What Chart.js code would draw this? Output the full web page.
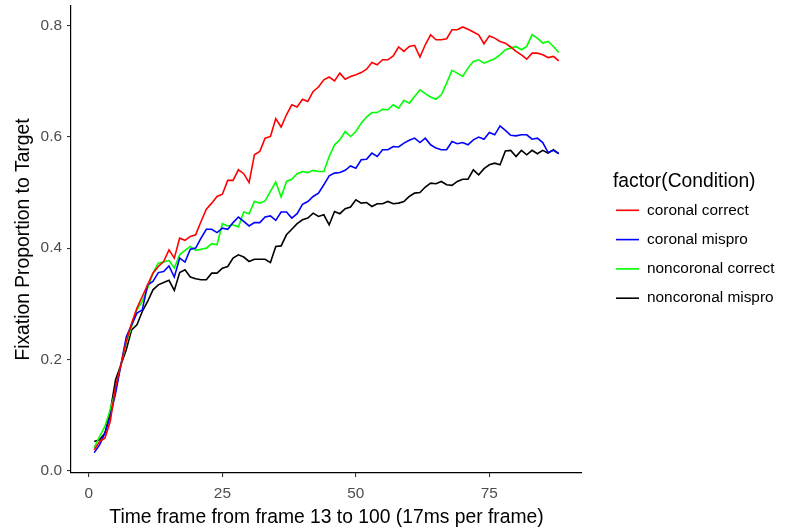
<!DOCTYPE html>
<html>
<head>
<meta charset="utf-8">
<script src="https://cdn.jsdelivr.net/npm/chart.js@4.4.1/dist/chart.umd.min.js"></script>
<style>
  html, body { margin: 0; padding: 0; background: #ffffff; }
  #wrap { width: 787px; height: 531px; position: relative; }
</style>
</head>
<body>
<div id="wrap"><canvas id="c" width="787" height="531"></canvas></div>
<script>
const frames = [1,2,3,4,5,6,7,8,9,10,11,12,13,14,15,16,17,18,19,20,21,22,23,24,25,26,27,28,29,30,
  31,32,33,34,35,36,37,38,39,40,41,42,43,44,45,46,47,48,49,50,51,52,53,54,55,56,57,58,59,60,
  61,62,63,64,65,66,67,68,69,70,71,72,73,74,75,76,77,78,79,80,81,82,83,84,85,86,87,88];

const coronalCorrect = [0.037,0.052,0.058,0.088,0.151,0.190,0.232,0.265,0.292,0.313,
  0.334,0.355,0.367,0.376,0.397,0.382,0.418,0.414,0.421,0.424,
  0.448,0.470,0.481,0.493,0.497,0.522,0.522,0.541,0.534,0.518,
  0.568,0.574,0.598,0.601,0.633,0.618,0.640,0.658,0.654,0.668,
  0.664,0.682,0.690,0.703,0.708,0.701,0.715,0.704,0.709,0.712,
  0.716,0.722,0.734,0.730,0.739,0.739,0.746,0.762,0.754,0.763,
  0.765,0.744,0.766,0.784,0.775,0.775,0.777,0.793,0.793,0.798,
  0.794,0.789,0.784,0.768,0.782,0.778,0.772,0.769,0.762,0.754,
  0.748,0.740,0.751,0.751,0.748,0.743,0.745,0.737];

const coronalMispro = [0.032,0.046,0.067,0.097,0.139,0.190,0.240,0.262,0.283,0.289,
  0.334,0.340,0.356,0.358,0.368,0.348,0.382,0.375,0.398,0.400,
  0.418,0.434,0.434,0.428,0.436,0.434,0.446,0.456,0.448,0.440,
  0.446,0.446,0.456,0.458,0.450,0.465,0.465,0.454,0.462,0.479,
  0.484,0.493,0.499,0.514,0.530,0.535,0.536,0.540,0.548,0.544,
  0.559,0.560,0.571,0.565,0.577,0.577,0.583,0.582,0.589,0.594,
  0.598,0.590,0.598,0.586,0.580,0.577,0.577,0.592,0.588,0.590,
  0.586,0.595,0.600,0.596,0.608,0.604,0.620,0.612,0.603,0.602,
  0.604,0.604,0.596,0.598,0.590,0.572,0.576,0.570];

const noncoronalCorrect = [0.041,0.061,0.079,0.109,0.145,0.190,0.229,0.259,0.289,0.304,
  0.328,0.355,0.373,0.375,0.378,0.364,0.388,0.396,0.403,0.396,
  0.398,0.400,0.408,0.406,0.444,0.440,0.442,0.438,0.465,0.462,
  0.484,0.481,0.485,0.502,0.519,0.492,0.520,0.524,0.534,0.538,
  0.536,0.540,0.538,0.538,0.565,0.586,0.595,0.610,0.601,0.610,
  0.625,0.636,0.644,0.644,0.650,0.649,0.658,0.652,0.666,0.661,
  0.673,0.685,0.678,0.672,0.668,0.676,0.697,0.720,0.715,0.709,
  0.724,0.736,0.739,0.733,0.737,0.741,0.748,0.757,0.760,0.763,
  0.757,0.763,0.784,0.778,0.769,0.772,0.763,0.752];

const noncoronalMispro = [0.052,0.055,0.067,0.106,0.163,0.190,0.217,0.253,0.262,0.286,
  0.304,0.325,0.334,0.338,0.342,0.324,0.356,0.361,0.348,0.345,
  0.343,0.343,0.355,0.355,0.364,0.367,0.382,0.388,0.384,0.376,
  0.380,0.380,0.380,0.374,0.403,0.404,0.424,0.434,0.444,0.451,
  0.454,0.463,0.457,0.460,0.442,0.466,0.462,0.471,0.474,0.487,
  0.481,0.482,0.475,0.480,0.480,0.484,0.480,0.481,0.484,0.493,
  0.499,0.500,0.510,0.517,0.516,0.520,0.514,0.513,0.520,0.524,
  0.524,0.541,0.532,0.543,0.550,0.553,0.550,0.575,0.576,0.565,
  0.576,0.568,0.576,0.570,0.576,0.571,0.577,0.570];

const seriesNames = ['coronal correct', 'coronal mispro', 'noncoronal correct', 'noncoronal mispro'];
const seriesValues = [coronalCorrect, coronalMispro, noncoronalCorrect, noncoronalMispro];
const seriesColors = ['#ff0000', '#0000ff', '#00ff00', '#000000'];
const xTicks = [0, 25, 50, 75];
const yTicks = [0, 0.2, 0.4, 0.6, 0.8];
const xTitle = 'Time frame from frame 13 to 100 (17ms per frame)';
const yTitle = 'Fixation Proportion to Target';
const legendTitle = 'factor(Condition)';

const FONT = '"Liberation Sans", Arial, Helvetica, sans-serif';

const datasets = seriesNames.map((name, k) => ({
  label: name,
  data: frames.map((f, i) => ({ x: f, y: seriesValues[k][i] })),
  borderColor: seriesColors[k],
  backgroundColor: seriesColors[k],
  borderWidth: 1.6,
  pointRadius: 0,
  pointHoverRadius: 0,
  tension: 0,
  fill: false
}));

const ggLegend = {
  id: 'ggLegend',
  afterDraw(chart) {
    const ctx = chart.ctx;
    const x0 = chart.chartArea.right + 31;
    ctx.save();
    ctx.fillStyle = '#000000';
    ctx.textAlign = 'left';
    ctx.textBaseline = 'middle';
    ctx.font = '19.3px ' + FONT;
    ctx.fillText(legendTitle, x0, 182);
    ctx.font = '15.4px ' + FONT;
    chart.data.datasets.forEach((ds, k) => {
      const y = 210.3 + 29.3 * k;
      ctx.strokeStyle = ds.borderColor;
      ctx.lineWidth = 1.6;
      ctx.beginPath();
      ctx.moveTo(x0 + 3, y);
      ctx.lineTo(x0 + 26, y);
      ctx.stroke();
      ctx.fillStyle = '#000000';
      ctx.fillText(ds.label, x0 + 34, y);
    });
    ctx.restore();
  }
};

new Chart(document.getElementById('c'), {
  type: 'line',
  data: { datasets },
  plugins: [ggLegend],
  options: {
    responsive: false,
    devicePixelRatio: 1,
    animation: false,
    layout: { padding: { left: 0, right: 205, top: 6, bottom: 0 } },
    plugins: { legend: { display: false }, tooltip: { enabled: false } },
    scales: {
      x: {
        type: 'linear',
        min: -3.35,
        max: 92.35,
        afterBuildTicks: (axis) => { axis.ticks = xTicks.map(v => ({ value: v })); },
        afterFit: (s) => { s.height = 58; s.paddingLeft = 0; s.paddingRight = 0; },
        border: { display: true, color: '#000000', width: 1.2 },
        grid: { display: true, drawOnChartArea: false, drawTicks: true, tickLength: 4, color: '#333333', lineWidth: 1.1 },
        ticks: { color: '#4d4d4d', font: { family: FONT, size: 15.4 }, padding: 8, maxRotation: 0, autoSkip: false,
                 callback: (v) => String(v) },
        title: { display: true, text: xTitle, color: '#000000', font: { family: FONT, size: 19.3 }, padding: { top: 0, bottom: 2 } }
      },
      y: {
        type: 'linear',
        min: -0.0047,
        max: 0.8358,
        afterBuildTicks: (axis) => { axis.ticks = yTicks.map(v => ({ value: v })); },
        afterFit: (s) => { s.width = 71; s.paddingTop = 0; s.paddingBottom = 0; },
        border: { display: true, color: '#000000', width: 1.2 },
        grid: { display: true, drawOnChartArea: false, drawTicks: true, tickLength: 4, color: '#333333', lineWidth: 1.1 },
        ticks: { color: '#4d4d4d', font: { family: FONT, size: 15.4 }, padding: 5, autoSkip: false,
                 callback: (v) => Number(v).toFixed(1) },
        title: { display: true, text: yTitle, color: '#000000', font: { family: FONT, size: 19.3 }, padding: { top: 12, bottom: 0 } }
      }
    }
  }
});
</script>
</body>
</html>
